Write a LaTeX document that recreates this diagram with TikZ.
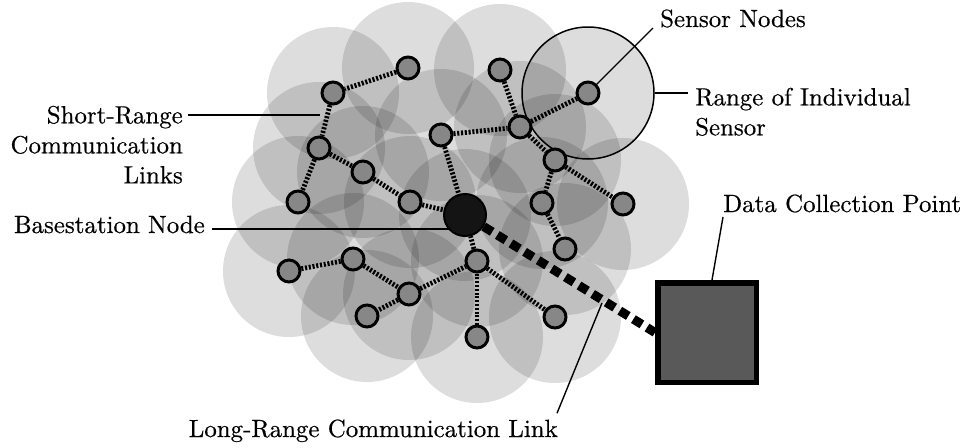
\documentclass[tikz,border=0pt]{standalone}
\usepackage{fontspec}
\setmainfont{lmroman10-regular.otf}[FakeBold=0.5]
\usetikzlibrary{calc}
\pgfdeclarelayer{cloud}
\pgfdeclarelayer{links}
\pgfsetlayers{cloud,links,main}
\begin{document}
\begin{tikzpicture}[x=1pt,y=-1pt,
  sensor/.style={circle,draw=black,line width=3pt,fill=black!47,minimum size=22pt,inner sep=0pt},
  bsnode/.style={circle,draw=black,line width=2pt,fill=black!92,minimum size=42pt,inner sep=0pt},
  sqnode/.style={rectangle,draw=black,line width=5.5pt,fill=black!65,minimum width=98.5pt,minimum height=99.5pt,inner sep=0pt},
  rngnode/.style={circle,draw=black,line width=1.5pt,minimum size=132pt,inner sep=0pt},
  lbl/.style={font=\fontsize{24.9}{30}\selectfont,inner sep=0pt},
  leader/.style={draw=black,line width=1.4pt},
  shortlink/.style={draw=black,line width=4.8pt,dash pattern=on 2.1pt off 1.7pt},
  longlink/.style={draw=black,line width=9pt,dash pattern=on 10pt off 6pt},
  rangefill/.style={fill=black,fill opacity=0.135}]
\useasboundingbox (0,0) rectangle (966,447);
% sensor nodes
\node[sensor] (s1) at (408,68) {};
\node[sensor] (s2) at (500,70) {};
\node[sensor] (s3) at (333,93) {};
\node[sensor] (sR) at (588,93) {};
\node[sensor] (s5) at (520,127) {};
\node[sensor] (s6) at (441,135) {};
\node[sensor] (s7) at (319,148) {};
\node[sensor] (s8) at (555,160) {};
\node[sensor] (s9) at (363,172) {};
\node[sensor] (s10) at (298,202) {};
\node[sensor] (s11) at (410,202) {};
\node[sensor] (s12) at (542,203) {};
\node[sensor] (s13) at (623,204) {};
\node[sensor] (s14) at (565,249) {};
\node[sensor] (s15) at (477,261) {};
\node[sensor] (s16) at (353,259) {};
\node[sensor] (s17) at (289,271) {};
\node[sensor] (s18) at (409,294) {};
\node[sensor] (s19) at (367,316) {};
\node[sensor] (s20) at (555,317) {};
\node[sensor] (s21) at (477,337) {};
\node[bsnode] (bs) at (465,215) {};
\node[sqnode] (sq) at (707,332.5) {};
% labels
\node[lbl,align=right,anchor=north east] (sl) at (183,105.6) {Short-Range\\Communication\\Links};
\node[lbl,anchor=base east] (bsl) at (205,233) {Basestation Node};
\node[lbl,anchor=base west] (snl) at (660,27) {Sensor Nodes};
\node[lbl,align=left,anchor=north west] (rl) at (695,87.6) {Range of Individual\\Sensor};
\node[lbl,anchor=base west] (dcl) at (723,212) {Data Collection Point};
\node[lbl,anchor=base east] (lrl) at (558,437) {Long-Range Communication Link};
\coordinate (slend) at (320,115);
\coordinate (lrend) at (602,303);
% cloud of sensor ranges
\begin{pgfonlayer}{cloud}
\foreach \n in {s1,s2,s3,sR,s5,s6,s7,s8,s9,s10,s11,s12,s13,s14,s15,s16,s17,s18,s19,s20,s21,bs}
  \fill[rangefill] (\n.center) circle[radius=66pt];
\node[rngnode] (rng) at (sR) {};
\end{pgfonlayer}
% links and leaders
\begin{pgfonlayer}{links}
\foreach \a/\b in {s1/s3,s3/s7,s7/s9,s7/s10,s9/s11,s11/bs,s6/bs,s6/s5,s2/s5,s5/sR,s5/s8,s8/s13,s8/s12,s12/s14,s17/s16,s16/s18,s18/s19,s18/s15,s15/bs,s15/s21,s15/s20}
  \draw[shortlink] (\a) -- (\b);
\draw[longlink] (bs) -- (sq.west);
\draw[leader] ($(sl.north east)+(5,9.4)$) -- (slend);
\draw[leader] ($(bsl.base east)+(7,-4)$) -- ($(bs.center)+(0,14)$);
\draw[leader] ($(snl.base west)+(-7,1)$) -- (sR);
\draw[leader] (rng.east) -- ($(rl.north west)+(-7,5.4)$);
\draw[leader] ($(dcl.base west)+(0,5)$) -- ($(sq.north west)+(57,0)$);
\draw[leader] ($(lrl.north east)+(-1,-6)$) -- (lrend);
\end{pgfonlayer}
\end{tikzpicture}
\end{document}
